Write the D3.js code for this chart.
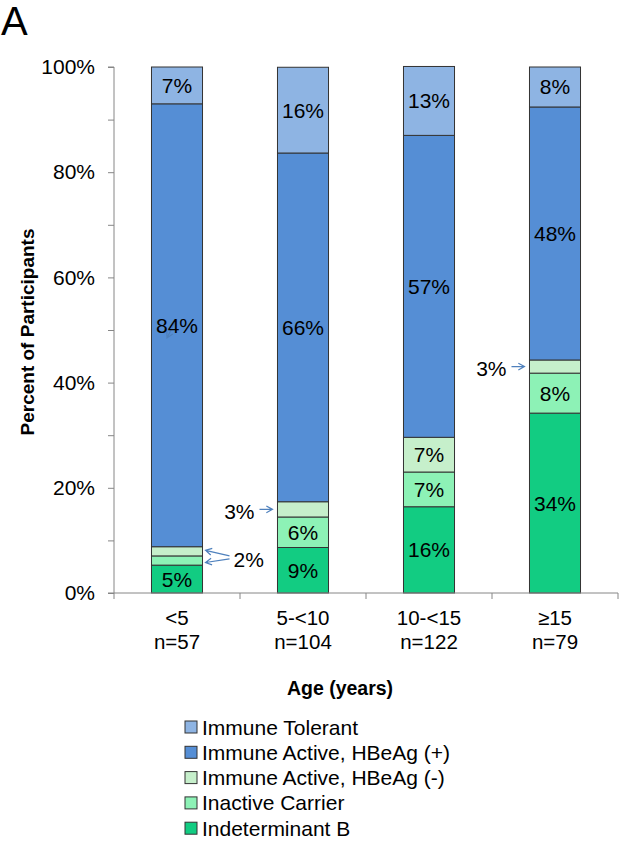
<!DOCTYPE html>
<html>
<head>
<meta charset="utf-8">
<script src="https://cdn.jsdelivr.net/npm/d3@7"></script>
<style>
  body { margin: 0; background: #fff; }
  svg { display: block; font-family: Arial, "Liberation Sans", sans-serif; }
</style>
</head>
<body>
<svg id="chart" width="625" height="842"></svg>
<script>
// ---- data ----
const categories = ["<5", "5-<10", "10-<15", "≥15"];
const sampleSizes = ["n=57", "n=104", "n=122", "n=79"];
const seriesNames = ["Indeterminant B", "Inactive Carrier", "Immune Active, HBeAg (-)", "Immune Active, HBeAg (+)", "Immune Tolerant"];
const indeterminantB = [5.3, 8.65, 16.4, 34.2];
const inactiveCarrier = [1.75, 5.8, 6.6, 7.6];
const immuneActiveNeg = [1.75, 2.9, 6.6, 2.5];
const immuneActivePos = [84.2, 66.3, 57.4, 48.1];
const immuneTolerant = [7.0, 16.3, 13.1, 7.6];
const yTickValues = [0, 10, 20, 30, 40, 50, 60, 70, 80, 90, 100];
const legendOrder = ["Immune Tolerant", "Immune Active, HBeAg (+)", "Immune Active, HBeAg (-)", "Inactive Carrier", "Indeterminant B"];
// labels placed outside bars (category index, series index)
const outsideLabels = [
  {cat: 0, series: [2, 1], text: "2%"},
  {cat: 1, series: [2], text: "3%"},
  {cat: 3, series: [2], text: "3%"}
];

const colors = {
  "Immune Tolerant": "#8EB4E3",
  "Immune Active, HBeAg (+)": "#558ED5",
  "Immune Active, HBeAg (-)": "#C6EFCB",
  "Inactive Carrier": "#8DF2B6",
  "Indeterminant B": "#12CC82"
};

const seriesValues = [indeterminantB, inactiveCarrier, immuneActiveNeg, immuneActivePos, immuneTolerant];
const table = categories.map((c, i) => {
  const row = {category: c};
  seriesNames.forEach((s, j) => row[s] = seriesValues[j][i]);
  return row;
});
const stacked = d3.stack().keys(seriesNames)(table);

const svg = d3.select("#chart");
const pLeft = 114, pRight = 618, pTop = 67, pBottom = 593;
const x = d3.scaleBand().domain(categories).range([pLeft, pRight]).paddingInner(0.595).paddingOuter(0.2975);
const y = d3.scaleLinear().domain([0, 100]).range([pBottom, pTop]);
const axisColor = "#868686";
const arrowColor = "#4F81BD";
const fs = 21;

// "A" panel label
svg.append("text").attr("x", 1).attr("y", 35).attr("font-size", 40).attr("fill", "#000").text("A");

// bars
const g = svg.append("g");
stacked.forEach((layer, si) => {
  g.selectAll(null).data(layer).enter().append("rect")
    .attr("x", (d, i) => x(categories[i]))
    .attr("width", x.bandwidth())
    .attr("y", d => y(d[1]))
    .attr("height", d => y(d[0]) - y(d[1]))
    .attr("fill", colors[layer.key])
    .attr("stroke", "#333")
    .attr("stroke-width", 1);
});

function arrow(sel, x1, y1, x2, y2) {
  const ang = Math.atan2(y2 - y1, x2 - x1);
  const h = 7, a = 0.5;
  const p = d3.path();
  p.moveTo(x1, y1); p.lineTo(x2, y2);
  p.moveTo(x2 - h * Math.cos(ang - a), y2 - h * Math.sin(ang - a));
  p.lineTo(x2, y2);
  p.lineTo(x2 - h * Math.cos(ang + a), y2 - h * Math.sin(ang + a));
  sel.append("path").attr("d", p.toString()).attr("fill", "none")
    .attr("stroke", arrowColor).attr("stroke-width", 1.2);
}
// faint stray arrow behind the 84% label (as in original)
arrow(svg, x(categories[0]) + x.bandwidth() / 2 - 2, y(51.5), x(categories[0]) + x.bandwidth() / 2 - 10, y(48.5));

// in-bar labels
const outsideSet = new Set();
outsideLabels.forEach(o => o.series.forEach(s => outsideSet.add(o.cat + "_" + s)));
stacked.forEach((layer, si) => {
  layer.forEach((d, i) => {
    if (outsideSet.has(i + "_" + si)) return;
    svg.append("text")
      .attr("x", x(categories[i]) + x.bandwidth() / 2)
      .attr("y", (y(d[0]) + y(d[1])) / 2 + 7.5)
      .attr("text-anchor", "middle")
      .attr("font-size", fs)
      .attr("fill", "#000")
      .text(Math.round(d[1] - d[0]) + "%");
  });
});

// outside labels with arrows
outsideLabels.forEach(o => {
  const barL = x(categories[o.cat]);
  const barR = barL + x.bandwidth();
  const mids = o.series.map(s => (y(stacked[s][o.cat][0]) + y(stacked[s][o.cat][1])) / 2);
  const labelY = d3.mean(mids) + (o.series.length > 1 ? 4 : 2);
  if (o.series.length > 1) {
    svg.append("text").attr("x", barR + 31).attr("y", labelY + 7.5)
      .attr("font-size", fs).attr("fill", "#000").text(o.text);
    mids.forEach((m, k) => arrow(svg, barR + 27, labelY - 4 + k * 3, barR + 3, m - 1 + k * 3));
  } else {
    svg.append("text").attr("x", barL - 23).attr("y", labelY + 7.5)
      .attr("text-anchor", "end").attr("font-size", fs).attr("fill", "#000").text(o.text);
    arrow(svg, barL - 18, mids[0], barL - 5, mids[0]);
  }
});

// y axis
const yAxis = d3.axisLeft(y).tickValues(yTickValues).tickSize(6).tickPadding(13)
  .tickFormat(d => d % 20 === 0 ? d + "%" : "");
const ya = svg.append("g").attr("transform", `translate(${pLeft},0)`).call(yAxis);
ya.select(".domain").attr("stroke", axisColor).attr("d", `M-6,${pTop}H0V${pBottom}H-6`);
ya.selectAll(".tick line").attr("stroke", axisColor);
ya.selectAll(".tick text").attr("font-size", fs).attr("fill", "#000").attr("font-family", "Arial, 'Liberation Sans', sans-serif");

// x axis
const xa = svg.append("g");
xa.append("line").attr("x1", pLeft).attr("x2", pRight).attr("y1", pBottom).attr("y2", pBottom).attr("stroke", axisColor);
const boundaries = [pLeft].concat(categories.map(c => x(c) - x.step() * x.paddingInner() / 2 + x.step()));
boundaries.forEach(b => xa.append("line").attr("x1", b).attr("x2", b).attr("y1", pBottom).attr("y2", pBottom + 6).attr("stroke", axisColor));
categories.forEach((c, i) => {
  const cx = x(c) + x.bandwidth() / 2;
  const t = xa.append("text").attr("text-anchor", "middle").attr("font-size", 20.5).attr("fill", "#000");
  t.append("tspan").attr("x", cx).attr("y", 625).text(c);
  t.append("tspan").attr("x", cx).attr("y", 649).text(sampleSizes[i]);
});

// axis titles
svg.append("text").attr("transform", "translate(34,332) rotate(-90)")
  .attr("text-anchor", "middle").attr("font-size", 19).attr("font-weight", "bold").attr("fill", "#000")
  .text("Percent of Participants");
svg.append("text").attr("x", 340).attr("y", 695).attr("text-anchor", "middle")
  .attr("font-size", 19.5).attr("font-weight", "bold").attr("fill", "#000").text("Age (years)");

// legend
const lg = svg.append("g");
legendOrder.forEach((name, i) => {
  const cy = 727 + i * 25.3;
  lg.append("rect").attr("x", 185).attr("y", cy - 6).attr("width", 12).attr("height", 12)
    .attr("fill", colors[name]).attr("stroke", "#333").attr("stroke-width", 1);
  lg.append("text").attr("x", 202).attr("y", cy + 7.5).attr("font-size", 21).attr("fill", "#000").text(name);
});
</script>
</body>
</html>
